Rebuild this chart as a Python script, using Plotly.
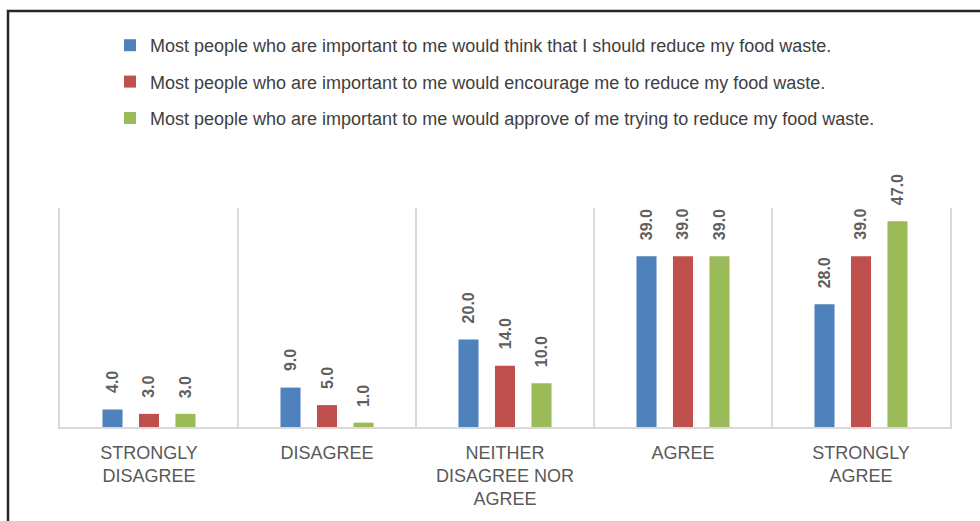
import plotly.graph_objects as go

categories = ["STRONGLY<br>DISAGREE", "DISAGREE", "NEITHER<br>DISAGREE NOR<br>AGREE", "AGREE", "STRONGLY<br>AGREE"]
series_names = [
    "Most people who are important to me would think that I should reduce my food waste.",
    "Most people who are important to me would encourage me to reduce my food waste.",
    "Most people who are important to me would approve of me trying to reduce my food waste.",
]
think_vals = [4.0, 9.0, 20.0, 39.0, 28.0]
encourage_vals = [3.0, 5.0, 14.0, 39.0, 39.0]
approve_vals = [3.0, 1.0, 10.0, 39.0, 47.0]
colors = ["#4f81bd", "#c0504d", "#9bbb59"]

W, H = 980, 521
ML, MR, MT, MB = 60, 30, 208, 94
PW = W - ML - MR
PH = H - MT - MB

def px_x(p):
    return (p - ML) / PW

def px_y(p):
    return (H - MB - p) / PH

fig = go.Figure()
all_vals = [think_vals, encourage_vals, approve_vals]
for i, (name, vals) in enumerate(zip(series_names, all_vals)):
    fig.add_trace(go.Bar(
        x=categories, y=vals, name=name, legendgroup=f"g{i}",
        marker=dict(color=colors[i], line=dict(width=0)),
        hoverinfo="skip",
    ))

# data labels
cat_w = PW / len(categories)
bargap = 0.385
slot = cat_w * (1 - bargap) / 3
annotations = []
for i, vals in enumerate(all_vals):
    for c, v in zip(categories, vals):
        annotations.append(dict(
            x=c, y=v, xref="x", yref="y", text=f"{v:.1f}", showarrow=False,
            textangle=-90, xanchor="center", yanchor="bottom", yshift=14,
            xshift=(i - 1) * slot,
            font=dict(family="Liberation Sans, Arial, sans-serif", size=16, color="#5f5f5f", weight="bold"),
        ))

fig.update_layout(
    width=W, height=H,
    margin=dict(l=ML, r=MR, t=MT, b=MB, autoexpand=False),
    paper_bgcolor="white", plot_bgcolor="white",
    barmode="group", bargap=bargap, bargroupgap=0.45,
    showlegend=True,
    legend=dict(
        x=px_x(110), y=px_y(27), xanchor="left", yanchor="top",
        orientation="v", tracegroupgap=10,
        font=dict(family="Liberation Sans, Arial, sans-serif", size=18, color="#404040"),
        bgcolor="rgba(0,0,0,0)", itemclick=False, itemdoubleclick=False,
    ),
    xaxis=dict(
        showgrid=True, gridcolor="#d9d9d9", gridwidth=1.5, tickson="boundaries",
        showline=True, linecolor="#d9d9d9", linewidth=2,
        ticks="", ticklabelstandoff=8,
        tickfont=dict(family="Liberation Sans, Arial, sans-serif", size=18, color="#595959"),
        fixedrange=True,
    ),
    yaxis=dict(
        range=[0, 50], showgrid=False, zeroline=False, showticklabels=False,
        showline=True, mirror=True, linecolor="#d9d9d9", linewidth=1.5, ticks="",
        fixedrange=True,
    ),
    annotations=annotations,
    shapes=[dict(
        type="path", xref="paper", yref="paper",
        path=f"M {px_x(8)} {px_y(540)} L {px_x(8)} {px_y(11)} L {px_x(1000)} {px_y(11)}",
        line=dict(color="#262626", width=2.5),
    )],
)

fig.write_html("out.html", config={"displayModeBar": False})
